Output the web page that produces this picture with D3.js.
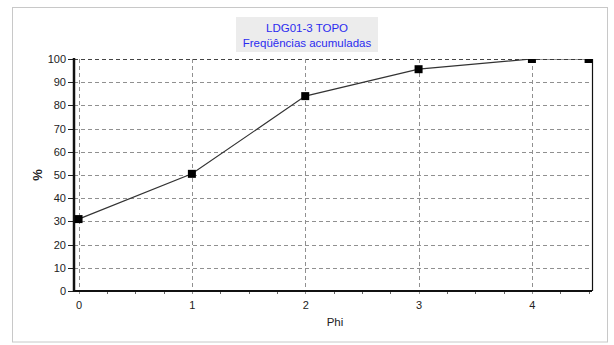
<!DOCTYPE html>
<html>
<head>
<meta charset="utf-8">
<script src="https://cdn.jsdelivr.net/npm/d3@7"></script>
<style>
  html, body { margin: 0; padding: 0; background: #fff; }
  svg { display: block; font-family: "Liberation Sans", Arial, sans-serif; }
</style>
</head>
<body>
<svg id="chart" width="614" height="345"></svg>
<script>
// Cumulative frequency curve, sample LDG01-3 TOPO
const phiValues = [0, 1, 2, 3, 4, 4.5];
const cumulativePct = [31, 50.5, 84, 95.6, 100, 100];
const xTickValues = [0, 1, 2, 3, 4];
const yTickValues = [0, 10, 20, 30, 40, 50, 60, 70, 80, 90, 100];
const titleLines = ["LDG01-3 TOPO", "Freqüências acumuladas"];
const xAxisTitle = "Phi";
const yAxisTitle = "%";

const svg = d3.select("#chart");
const plot = { left: 74, right: 592, top: 59, bottom: 291 };

// outer panel frame
svg.append("rect")
  .attr("x", 12.5).attr("y", 7.5)
  .attr("width", 595).attr("height", 334.5)
  .attr("fill", "#fff").attr("stroke", "#c8c8c8").attr("stroke-width", 1);

const x = d3.scaleLinear().domain([-0.04, 4.53]).range([plot.left, plot.right]);
const y = d3.scaleLinear().domain([0, 100]).range([plot.bottom, plot.top]);

// title box
const tb = svg.append("g");
tb.append("rect")
  .attr("x", 236).attr("y", 17).attr("width", 142).attr("height", 35)
  .attr("fill", "#ececec");
tb.selectAll("text").data(titleLines).join("text")
  .attr("x", 307).attr("y", (d, i) => 32 + i * 15)
  .attr("text-anchor", "middle")
  .attr("font-size", 11.5)
  .attr("fill", "#2b2bf0")
  .text(d => d);

// grid
const grid = svg.append("g").attr("stroke", "#909090").attr("stroke-width", 1)
  .attr("stroke-dasharray", "4,3").attr("shape-rendering", "crispEdges");
grid.selectAll("line.h").data(yTickValues.filter(v => v > 0)).join("line")
  .attr("class", "h")
  .attr("x1", plot.left).attr("x2", plot.right)
  .attr("y1", d => Math.round(y(d)) + 0.5).attr("y2", d => Math.round(y(d)) + 0.5)
  .attr("stroke", d => d === 100 ? "#444" : "#909090");
grid.selectAll("line.v").data(xTickValues).join("line")
  .attr("class", "v")
  .attr("x1", d => Math.round(x(d)) + 0.5).attr("x2", d => Math.round(x(d)) + 0.5)
  .attr("y1", plot.top).attr("y2", plot.bottom + 5);

// x axis (bottom), with minor ticks every 0.25
const xAxis = d3.axisBottom(x).tickValues(xTickValues).tickSize(0).tickPadding(10)
  .tickFormat(d3.format("d"));
const gx = svg.append("g").attr("transform", `translate(0,${plot.bottom})`).call(xAxis);
gx.select(".domain").remove();
gx.selectAll("text").attr("font-size", 11).attr("fill", "#222").attr("font-family", "Liberation Sans, Arial, sans-serif");
const minor = d3.range(0, 4.51, 0.25).filter(v => !xTickValues.includes(v));
svg.append("g").selectAll("line").data(minor).join("line")
  .attr("x1", d => Math.round(x(d)) + 0.5).attr("x2", d => Math.round(x(d)) + 0.5)
  .attr("y1", plot.bottom).attr("y2", plot.bottom + 3)
  .attr("stroke", "#666").attr("shape-rendering", "crispEdges");

// y axis (left)
const yAxis = d3.axisLeft(y).tickValues(yTickValues).tickSize(6).tickPadding(2);
const gy = svg.append("g").attr("transform", `translate(${plot.left},0)`).call(yAxis);
gy.select(".domain").remove();
gy.selectAll("line").attr("stroke", "#222").attr("shape-rendering", "crispEdges");
gy.selectAll("text").attr("font-size", 11).attr("fill", "#222").attr("font-family", "Liberation Sans, Arial, sans-serif");

// plot frame: thick left and bottom axes, thin right edge
svg.append("line").attr("x1", plot.left).attr("x2", plot.left)
  .attr("y1", plot.top - 1).attr("y2", plot.bottom + 1)
  .attr("stroke", "#111").attr("stroke-width", 2.5);
svg.append("line").attr("x1", plot.left).attr("x2", plot.right)
  .attr("y1", plot.bottom).attr("y2", plot.bottom)
  .attr("stroke", "#111").attr("stroke-width", 2);
svg.append("line").attr("x1", plot.right + 0.5).attr("x2", plot.right + 0.5)
  .attr("y1", plot.top).attr("y2", plot.bottom)
  .attr("stroke", "#111").attr("stroke-width", 1.2);

// series line and markers, clipped to the plot area
svg.append("clipPath").attr("id", "plotClip").append("rect")
  .attr("x", plot.left).attr("y", plot.top)
  .attr("width", plot.right - plot.left + 1).attr("height", plot.bottom - plot.top);
const series = phiValues.map((p, i) => ({ phi: p, pct: cumulativePct[i] }));
const sg = svg.append("g").attr("clip-path", "url(#plotClip)");
sg.append("path").datum(series)
  .attr("fill", "none").attr("stroke", "#333").attr("stroke-width", 1.2)
  .attr("d", d3.line().x(d => x(d.phi)).y(d => y(d.pct)));
sg.selectAll("rect.m").data(series).join("rect")
  .attr("class", "m")
  .attr("x", d => x(d.phi) - 4).attr("y", d => y(d.pct) - 4)
  .attr("width", 8).attr("height", 8).attr("fill", "#000");

// axis titles
svg.append("text").attr("x", 335).attr("y", 326)
  .attr("text-anchor", "middle").attr("font-size", 11.5).attr("fill", "#222")
  .text(xAxisTitle);
svg.append("text").attr("transform", "translate(42,175) rotate(-90)")
  .attr("text-anchor", "middle").attr("font-size", 13).attr("font-weight", "bold")
  .attr("fill", "#222").text(yAxisTitle);
</script>
</body>
</html>
